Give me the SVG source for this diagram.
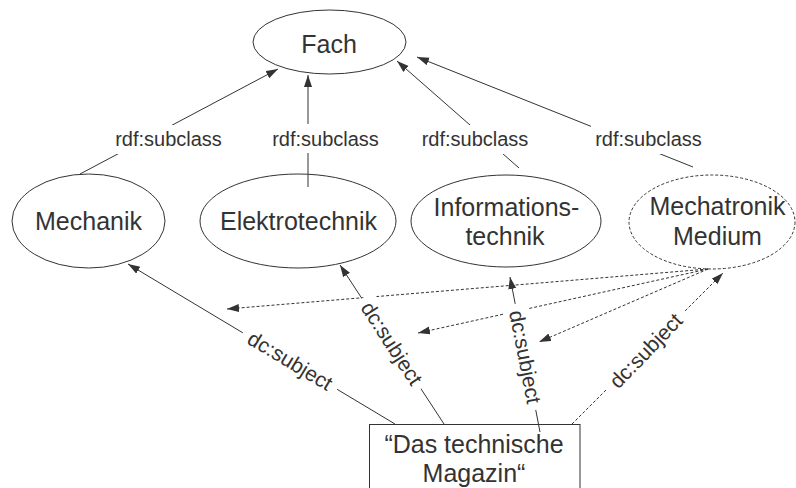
<svg xmlns="http://www.w3.org/2000/svg" width="796" height="488" viewBox="0 0 796 488">
<style>
.node{fill:#fff;stroke:#333;stroke-width:1}
.dashed{stroke-dasharray:3,2}
.nt{font-family:"Liberation Sans",Arial,sans-serif;font-size:25px;fill:#333;text-anchor:middle}
.lt{font-family:"Liberation Sans",Arial,sans-serif;font-size:20px;fill:#333;text-anchor:middle}
.dt{font-family:"Liberation Sans",Arial,sans-serif;font-size:21px;fill:#333;text-anchor:middle}
.c{fill:none;stroke:#333;stroke-width:1}
.bg{fill:#fff;stroke:none}
</style>
<defs>
<marker id="arr" markerUnits="userSpaceOnUse" markerWidth="13" markerHeight="10" refX="12" refY="4" orient="auto">
<path d="M0,0 L12,4 L0,8 z" fill="#333"/>
</marker>
</defs>
<rect width="796" height="488" fill="#fff"/>
<g id="connectors">
<line class="c" x1="80" y1="174" x2="278" y2="69" marker-end="url(#arr)"/>
<line class="c" x1="308" y1="187" x2="308" y2="75" marker-end="url(#arr)"/>
<line class="c" x1="519" y1="168" x2="397" y2="61" marker-end="url(#arr)"/>
<line class="c" x1="693" y1="167" x2="417" y2="57" marker-end="url(#arr)"/>
<line class="c" x1="395" y1="424" x2="128" y2="264" marker-end="url(#arr)"/>
<line class="c" x1="444" y1="424" x2="340" y2="265" marker-end="url(#arr)"/>
<line class="c" x1="540" y1="432" x2="510" y2="277" marker-end="url(#arr)"/>
<line class="c dashed" x1="572" y1="424" x2="723" y2="273" marker-end="url(#arr)"/>
<line class="c dashed" x1="708" y1="269" x2="227" y2="309" marker-end="url(#arr)"/>
<line class="c dashed" x1="708" y1="269" x2="418" y2="333" marker-end="url(#arr)"/>
<line class="c dashed" x1="708" y1="269" x2="539" y2="342" marker-end="url(#arr)"/>
<g id="labels">
<rect class="bg" x="112" y="125" width="113" height="29"/>
<text class="lt" x="168.5" y="146">rdf:subclass</text>
<rect class="bg" x="269" y="124" width="113" height="29"/>
<text class="lt" x="325.5" y="146">rdf:subclass</text>
<rect class="bg" x="418" y="125" width="114" height="29"/>
<text class="lt" x="475" y="146">rdf:subclass</text>
<rect class="bg" x="591" y="125" width="115" height="29"/>
<text class="lt" x="648.5" y="146">rdf:subclass</text>
<g transform="translate(290,361) rotate(31)">
<rect class="bg" x="-55" y="-13" width="110" height="26"/>
<text class="dt" x="0" y="7">dc:subject</text>
</g>
<g transform="translate(391.5,343.5) rotate(57)">
<rect class="bg" x="-54" y="-13" width="108" height="26"/>
<text class="dt" x="0" y="7">dc:subject</text>
</g>
<g transform="translate(525,357) rotate(79)">
<rect class="bg" x="-54" y="-13" width="108" height="26"/>
<text class="dt" x="0" y="7">dc:subject</text>
</g>
<g transform="translate(646,351) rotate(-46)">
<rect class="bg" x="-55" y="-13" width="110" height="26"/>
<text class="dt" x="0" y="7">dc:subject</text>
</g>
</g>
</g>
<g id="fach">
<ellipse class="node" cx="329.5" cy="42" rx="76.5" ry="32" fill-opacity="0"/>
<text class="nt" x="329" y="53">Fach</text>
</g>
<g id="mechanik">
<ellipse class="node" cx="88.5" cy="221" rx="76.5" ry="47" style="fill:none"/>
<text class="nt" x="88.5" y="230">Mechanik</text>
</g>
<g id="elektrotechnik">
<ellipse class="node" cx="298" cy="221" rx="98" ry="47" style="fill:none"/>
<text class="nt" x="298.5" y="230">Elektrotechnik</text>
</g>
<g id="informationstechnik">
<ellipse class="node" cx="506" cy="221" rx="95" ry="46" style="fill:none"/>
<text class="nt" x="506.5" y="216">Informations-</text>
<text class="nt" x="505" y="245">technik</text>
</g>
<g id="mechatronik">
<ellipse class="node dashed" cx="712" cy="222" rx="83" ry="47" style="fill:none"/>
<text class="nt" x="717.5" y="215">Mechatronik</text>
<text class="nt" x="717.5" y="245">Medium</text>
</g>
<g id="magazin">
<rect class="node" x="369.5" y="424.5" width="210.5" height="70" style="fill:none"/>
<text class="nt" x="474" y="453">“Das technische</text>
<text class="nt" x="474" y="482">Magazin“</text>
</g>
</svg>
